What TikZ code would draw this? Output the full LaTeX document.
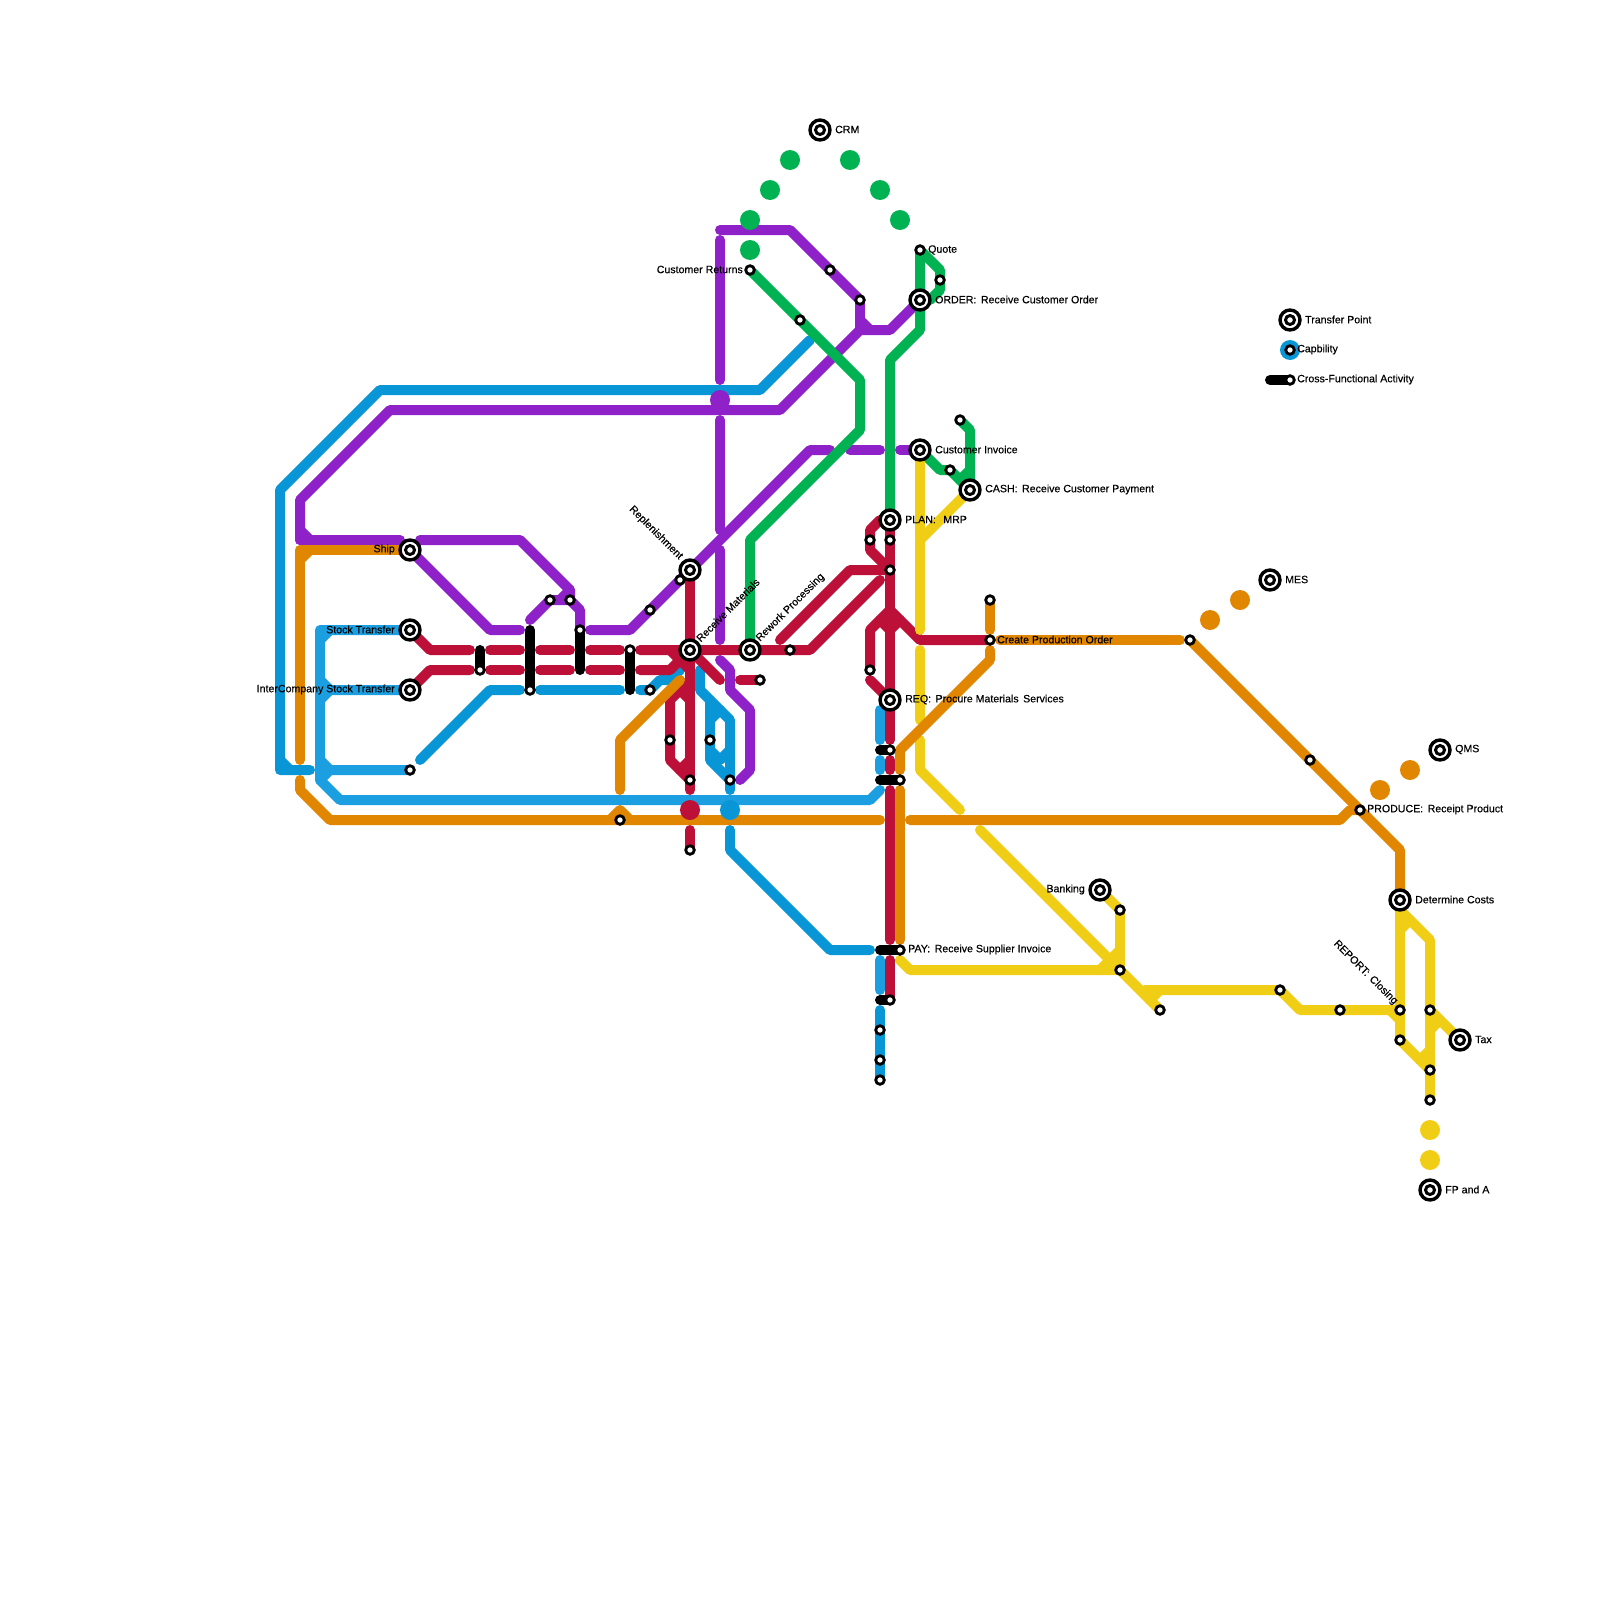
\documentclass[tikz,border=0pt]{standalone}
\usepackage{fontspec}
\setmainfont[FakeBold=0.35]{Liberation Sans}
\definecolor{cBlue}{HTML}{0896D7}
\definecolor{cLight}{HTML}{1B9FE0}
\definecolor{cPurple}{HTML}{8E22C8}
\definecolor{cRed}{HTML}{BD1038}
\definecolor{cGreen}{HTML}{00B251}
\definecolor{cOrange}{HTML}{E08600}
\definecolor{cYellow}{HTML}{F0CE15}
\pgfdeclarelayer{lines}
\pgfsetlayers{lines,main}
\newcommand{\gapb}{\hspace{4.5pt}}
\newcommand{\gapc}{\hspace{7.5pt}}
\tikzset{
  ml/.style={line width=10pt,line cap=round,line join=round},
  bigst/.style={circle,draw=black,line width=3.4pt,fill=white,minimum size=20pt,inner sep=0pt,
    path picture={\draw[black,line width=3pt,fill=white] (path picture bounding box.center) circle (4.5pt);}},
  smst/.style={circle,draw=black,line width=2.8pt,fill=white,minimum size=8.6pt,inner sep=0pt},
  dot/.style={circle,minimum size=20pt,inner sep=0pt},
  lab/.style={font=\fontsize{10.6}{12}\selectfont,inner sep=0pt,text=black},
  lr/.style={lab,anchor=west},
  ll/.style={lab,anchor=east},
}
\begin{document}
\begin{tikzpicture}[x=1pt,y=-1pt]
\useasboundingbox (0,0) rectangle (1600,1600);
% large stations
\foreach \n/\x/\y in {ship/410/550,stock/410/630,ico/410/690,repl/690/570,recv/690/650,rework/750/650,
  crm/820/130,order/920/300,inv/920/450,cash/970/490,plan/890/520,req/890/700,bank/1100/890,
  mes/1270/580,qms/1440/750,costs/1400/900,tax/1460/1040,fpa/1430/1190,tp/1290/320}
  {\node[bigst] (\n) at (\x,\y) {};}
% legend capability dot
\node[dot,fill=cBlue] (capdot) at (1290,350) {};
% small stations
\foreach \n/\x/\y in {a1/410/770,a2/480/670,a3/530/690,a4/550/600,a5/570/600,a6/580/630,a7/630/650,a8/650/690,
  a9/620/820,b1/650/610,b2/680/580,b3/670/740,b4/690/780,b5/690/850,b6/710/740,b7/730/780,b8/760/680,b9/790/650,
  c1/750/270,c2/800/320,c3/830/270,c4/860/300,c5/920/250,c6/940/280,c7/960/420,c8/950/470,
  d1/870/540,d2/890/540,d3/890/570,d4/870/670,d5/890/750,d6/900/780,d7/900/950,d8/890/1000,
  d9/880/1030,e1/880/1060,e2/880/1080,e3/990/600,e4/990/640,e5/1190/640,e6/1310/760,e7/1360/810,
  f1/1120/910,f2/1120/970,f3/1160/1010,f4/1280/990,f5/1340/1010,f6/1400/1010,f7/1400/1040,
  f8/1430/1010,f9/1430/1070,g1/1430/1100,g2/1290/350,g3/1290/380}
  {\node[smst] (\n) at (\x,\y) {};}
\begin{pgfonlayer}{lines}
% --- dark blue
\draw[ml,cBlue] (310,770) -- (280,770) -- (280,490) -- (380,390) -- (760,390) -- (810,340);
\draw[ml,cBlue] (280,760) -- (290,770);
\draw[ml,cBlue] (420,760) -- (490,690) -- (520,690);
\draw[ml,cBlue] (540,690) -- (620,690);
\draw[ml,cBlue] (640,690) -- (a8.center) -- (660,680) -- (670,680) -- (680,670);
\draw[ml,cBlue] (700,670) -- (700,690) -- (730,720) -- (730,790);
\draw[ml,cBlue] (710,700) -- (710,760) -- (b7.center);
\draw[ml,cBlue] (710,720) -- (720,710);
\draw[ml,cBlue] (710,750) -- (720,760) -- (730,750);
\draw[ml,cBlue] (730,830) -- (730,850) -- (830,950) -- (870,950);
\draw[ml,cBlue] (880,1010) -- (e2.center);
% --- light blue
\draw[ml,cLight] (stock.center) -- (320,630) -- (320,780) -- (340,800) -- (870,800) -- (880,790);
\draw[ml,cLight] (320,640) -- (330,630);
\draw[ml,cLight] (320,680) -- (330,690) -- (ico.center);
\draw[ml,cLight] (320,700) -- (330,690);
\draw[ml,cLight] (320,760) -- (330,770);
\draw[ml,cLight] (320,780) -- (330,770) -- (a1.center);
\draw[ml,cLight] (880,710) -- (880,740);
\draw[ml,cLight] (880,760) -- (880,770);
\draw[ml,cLight] (880,960) -- (880,990);
% --- purple
\draw[ml,cPurple] (300,540) -- (300,500) -- (390,410) -- (780,410) -- (860,330) -- (890,330) -- (order.center);
\draw[ml,cPurple] (c4.center) -- (860,330);
\draw[ml,cPurple] (860,320) -- (870,330);
\draw[ml,cPurple] (300,530) -- (310,540);
\draw[ml,cPurple] (300,540) -- (400,540);
\draw[ml,cPurple] (420,540) -- (520,540) -- (570,590) -- (a5.center);
\draw[ml,cPurple] (530,620) -- (a4.center) -- (a5.center) -- (580,610) -- (a6.center);
\draw[ml,cPurple] (560,600) -- (570,590);
\draw[ml,cPurple] (ship.center) -- (490,630) -- (520,630);
\draw[ml,cPurple] (590,630) -- (630,630) -- (810,450) -- (830,450);
\draw[ml,cPurple] (850,450) -- (880,450);
\draw[ml,cPurple] (900,450) -- (inv.center);
\draw[ml,cPurple] (720,380) -- (720,240);
\draw[ml,cPurple] (720,230) -- (790,230) -- (c4.center);
\draw[ml,cPurple] (720,420) -- (720,530);
\draw[ml,cPurple] (720,550) -- (720,640);
\draw[ml,cPurple] (720,660) -- (730,670) -- (730,690) -- (750,710) -- (750,770) -- (740,780);
% --- red
\draw[ml,cRed] (stock.center) -- (430,650) -- (470,650);
\draw[ml,cRed] (ico.center) -- (430,670) -- (470,670);
\foreach \a/\b in {490/520,540/570,590/620}{
  \draw[ml,cRed] (\a,650) -- (\b,650);
  \draw[ml,cRed] (\a,670) -- (\b,670);
}
\draw[ml,cRed] (640,650) -- (recv.center) -- (810,650) -- (880,580);
\draw[ml,cRed] (640,670) -- (670,670) -- (recv.center);
\draw[ml,cRed] (670,650) -- (690,670);
\draw[ml,cRed] (repl.center) -- (690,790);
\draw[ml,cRed] (690,680) -- (670,700) -- (670,760) -- (b4.center);
\draw[ml,cRed] (680,690) -- (690,700);
\draw[ml,cRed] (680,770) -- (690,760);
\draw[ml,cRed] (recv.center) -- (720,680);
\draw[ml,cRed] (740,680) -- (b8.center);
\draw[ml,cRed] (690,830) -- (b5.center);
\draw[ml,cRed] (780,640) -- (850,570) -- (d3.center);
\draw[ml,cRed] (plan.center) -- (890,740);
\draw[ml,cRed] (890,760) -- (890,770);
\draw[ml,cRed] (890,790) -- (890,940);
\draw[ml,cRed] (890,960) -- (d8.center);
\draw[ml,cRed] (880,520) -- (870,530) -- (870,550) -- (d3.center);
\draw[ml,cRed] (d4.center) -- (870,630) -- (890,610) -- (920,640) -- (e4.center);
\draw[ml,cRed] (880,620) -- (890,630) -- (900,620);
\draw[ml,cRed] (870,680) -- (req.center);
% --- green
\draw[ml,cGreen] (c1.center) -- (860,380) -- (860,430) -- (750,540) -- (rework.center);
\draw[ml,cGreen] (c5.center) -- (920,330) -- (890,360) -- (plan.center);
\draw[ml,cGreen] (c5.center) -- (940,270) -- (940,290) -- (930,300);
\draw[ml,cGreen] (inv.center) -- (940,470) -- (c8.center) -- (cash.center);
\draw[ml,cGreen] (c7.center) -- (970,430) -- (cash.center);
\draw[ml,cGreen] (960,480) -- (970,470);
% --- yellow
\draw[ml,cYellow] (inv.center) -- (920,630);
\draw[ml,cYellow] (920,650) -- (920,720);
\draw[ml,cYellow] (920,740) -- (920,770) -- (960,810);
\draw[ml,cYellow] (920,540) -- (cash.center);
\draw[ml,cYellow] (980,830) -- (f3.center);
\draw[ml,cYellow] (bank.center) -- (f1.center) -- (f2.center);
\draw[ml,cYellow] (900,960) -- (910,970) -- (f2.center);
\draw[ml,cYellow] (1100,970) -- (1120,950);
\draw[ml,cYellow] (1145,990) -- (f4.center) -- (1300,1010) -- (f6.center);
\draw[ml,cYellow] (1150,1000) -- (1160,990);
\draw[ml,cYellow] (1390,1010) -- (1400,1020);
\draw[ml,cYellow] (costs.center) -- (f7.center) -- (f9.center) -- (g1.center);
\draw[ml,cYellow] (1400,910) -- (1430,940) -- (f9.center);
\draw[ml,cYellow] (1400,930) -- (1410,920);
\draw[ml,cYellow] (f8.center) -- (tax.center);
\draw[ml,cYellow] (1430,1030) -- (1440,1020);
\draw[ml,cYellow] (1420,1060) -- (1430,1050);
% --- orange
\draw[ml,cOrange] (300,760) -- (300,550) -- (ship.center);
\draw[ml,cOrange] (300,560) -- (310,550);
\draw[ml,cOrange] (300,780) -- (300,790) -- (330,820) -- (880,820);
\draw[ml,cOrange] (610,820) -- (620,810) -- (630,820);
\draw[ml,cOrange] (620,790) -- (620,740) -- (680,680);
\draw[ml,cOrange] (910,820) -- (1340,820) -- (1350,810) -- (e7.center);
\draw[ml,cOrange] (1000,640) -- (1180,640);
\draw[ml,cOrange] (e5.center) -- (1400,850) -- (costs.center);
\draw[ml,cOrange] (e3.center) -- (990,630);
\draw[ml,cOrange] (990,650) -- (990,660) -- (900,750) -- (900,770);
\draw[ml,cOrange] (900,790) -- (900,940);
% --- black cross-functional bars
\draw[ml,black] (480,650) -- (a2.center);
\draw[ml,black] (a6.center) -- (580,670);
\draw[ml,black] (530,630) -- (a3.center);
\draw[ml,black] (a7.center) -- (630,690);
\draw[ml,black] (880,750) -- (d5.center);
\draw[ml,black] (880,780) -- (d6.center);
\draw[ml,black] (880,950) -- (d7.center);
\draw[ml,black] (880,1000) -- (d8.center);
\draw[ml,black] (1270,380) -- (g3.center);
\end{pgfonlayer}
% big dots
\foreach \n/\x/\y/\c in {g01/750/250/cGreen,g02/750/220/cGreen,g03/770/190/cGreen,g04/790/160/cGreen,
  g05/850/160/cGreen,g06/880/190/cGreen,g07/900/220/cGreen,
  p01/720/400/cPurple,r01/690/810/cRed,u01/730/810/cBlue,
  o01/1210/620/cOrange,o02/1240/600/cOrange,o03/1380/790/cOrange,o04/1410/770/cOrange,
  y01/1430/1130/cYellow,y02/1430/1160/cYellow}
  {\node[dot,fill=\c] (\n) at (\x,\y) {};}
% labels
\node[ll] (t1) at (395,549.5) {Ship};
\node[ll] (t2) at (395,629.5) {Stock Transfer};
\node[ll] (t3) at (395,689.5) {InterCompany Stock Transfer};
\node[ll] (t4) at (743,269.5) {Customer Returns};
\node[ll] (t5) at (1085,889.5) {Banking};
\node[lr] (t6) at (835,129.5) {CRM};
\node[lr] (t7) at (928,250) {Quote};
\node[lr] (t8) at (935,299.5) {ORDER:\gapb Receive Customer Order};
\node[lr] (t9) at (935,449.5) {Customer Invoice};
\node[lr] (t10) at (985,489.5) {CASH:\gapb Receive Customer Payment};
\node[lr] (t11) at (905,519.5) {PLAN:\gapc MRP};
\node[lr] (t12) at (997,639.5) {Create Production Order};
\node[lr] (t13) at (905,699.5) {REQ:\gapb Procure Materials\gapb Services};
\node[lr] (t14) at (908,949.5) {PAY:\gapb Receive Supplier Invoice};
\node[lr] (t15) at (1367,809.5) {PRODUCE:\gapb Receipt Product};
\node[lr] (t16) at (1415,899.5) {Determine Costs};
\node[lr] (t17) at (1475,1039.5) {Tax};
\node[lr] (t18) at (1445,1189.5) {FP and A};
\node[lr] (t19) at (1455,749.5) {QMS};
\node[lr] (t20) at (1285,579.5) {MES};
\node[lr] (t21) at (1305,319.5) {Transfer Point};
\node[lr] (t22) at (1297,349.5) {Capbility};
\node[lr] (t23) at (1297,379.5) {Cross-Functional Activity};
\node[lab,anchor=east,rotate=-45] (t24) at (681,558) {Replenishment};
\node[lab,anchor=west,rotate=45] (t25) at (698,640) {Receive Materials};
\node[lab,anchor=west,rotate=45] (t26) at (758,640) {Rework Processing};
\node[lab,anchor=east,rotate=-45] (t27) at (1396,1003) {REPORT:\gapb Closing};
\end{tikzpicture}
\end{document}
